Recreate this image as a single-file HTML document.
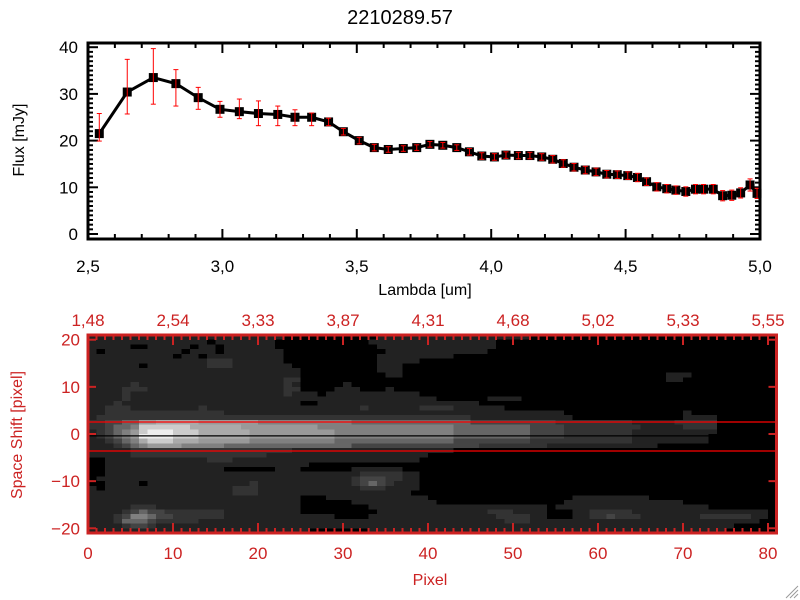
<!DOCTYPE html>
<html><head><meta charset="utf-8"><style>
html,body{margin:0;padding:0;background:#fff;}
svg{display:block;font-family:"Liberation Sans",sans-serif;}
</style></head><body>
<svg id="c" width="800" height="600" viewBox="0 0 800 600">
<text x="400" y="24" text-anchor="middle" font-size="20">2210289.57</text>
<text transform="translate(24,140) rotate(-90)" text-anchor="middle" font-size="16">Flux [mJy]</text>
<text x="425" y="295" text-anchor="middle" font-size="16">Lambda [um]</text>
<text transform="translate(22,435) rotate(-90)" text-anchor="middle" font-size="16" fill="#cc2222">Space Shift [pixel]</text>
<text x="430" y="585" text-anchor="middle" font-size="16" fill="#cc2222">Pixel</text>
<g id="topplot"></g>
<g id="botplot"></g>
<g stroke="#999" stroke-width="1"><line x1="798" y1="586" x2="786" y2="598"/><line x1="798" y1="590" x2="790" y2="598"/><line x1="798" y1="594" x2="794" y2="598"/></g>
</svg>
<script>
const lambda=[2.542,2.646,2.743,2.827,2.910,2.991,3.063,3.134,3.206,3.270,3.332,3.395,3.450,3.509,3.565,3.617,3.673,3.723,3.772,3.820,3.872,3.919,3.965,4.012,4.055,4.101,4.144,4.188,4.229,4.268,4.308,4.350,4.390,4.430,4.469,4.508,4.544,4.578,4.616,4.653,4.687,4.724,4.760,4.790,4.826,4.861,4.895,4.928,4.963,4.989];
const flux=[21.5,30.4,33.5,32.2,29.2,26.7,26.2,25.8,25.6,25.0,25.0,24.0,21.9,20.0,18.5,18.1,18.3,18.5,19.2,19.0,18.5,17.6,16.7,16.5,16.9,16.8,16.8,16.5,16.0,15.1,14.3,13.7,13.3,12.8,12.7,12.5,12.1,11.2,10.1,9.7,9.4,9.1,9.6,9.6,9.6,8.2,8.3,8.8,10.5,8.7];
const errHi=[25.8,37.4,39.7,35.2,31.4,28.4,28.9,28.5,27.4,26.6,25.9,24.8,22.6,20.7,19.2,18.7,18.9,19.1,19.8,19.6,19.1,18.3,17.4,17.2,17.6,17.5,17.5,17.2,16.8,15.9,15.1,14.5,14.1,13.6,13.5,13.3,13.0,12.0,11.0,10.6,10.3,10.1,10.6,10.6,10.6,9.3,9.4,9.9,11.8,9.8];
const errLo=[19.9,25.7,27.8,27.4,26.7,25.0,24.7,23.2,23.2,23.2,23.2,23.2,21.2,19.3,17.8,17.5,17.7,17.9,18.6,18.4,17.9,16.9,16.0,15.8,16.2,16.1,16.1,15.8,15.2,14.3,13.5,12.9,12.5,12.0,11.9,11.7,11.2,10.4,9.2,8.8,8.5,8.1,8.6,8.6,8.6,7.1,7.2,7.7,9.2,7.6];
const xTicks=[2.5,3.0,3.5,4.0,4.5,5.0];
const xTickLabels=["2,5","3,0","3,5","4,0","4,5","5,0"];
const yTicks=[0,10,20,30,40];
const pxTicks=[0,10,20,30,40,50,60,70,80];
const wlTickLabels=["1,48","2,54","3,33","3,87","4,31","4,68","5,02","5,33","5,55"];
const shiftTicks=[-20,-10,0,10,20];
const traceCenter=-0.4, apertureTop=2.55, apertureBottom=-3.6;
const imageRows=[
"111111111111111111111110000000000011111111111111111100000000000000000000000000000",
"111111111111110111111100000000000111111111111111000000000000000000000000000000000",
"111110011111011011111100000000000011111111111111000000000000000000000000000000000",
"101111111110111011111110000000000001111111111110000000000000000000000000000000000",
"111111111101101111111110000000000011111111100000000000000000000000000000000000000",
"111111111111112221111110000000000011111000000000000000000000000000000000000000000",
"111111011111112221111111000000000011100000000000000000000000000000000000000000000",
"111111111111111111111111100000000011100000000000000000000000000000000000000000000",
"111111111111111111111111100000000001100000000000000000000000000000001110000000000",
"111111111111111111111112200000000000000000000000000000000000000000001100000000000",
"111112111111111111111112100000100000000000000000000000000000000000000000000000000",
"111122211111111111111112200001110001000000000000000000000000000000000000000000000",
"111121111111111111111112111011111111111000000000000000000000000000000000000000000",
"111121111111111111111111111111111111111110000001111000000000000000000000000000000",
"111211111111111111111111100111111111111111111100000000000000000000000000000000000",
"112221111111121111111111111111112111111222211111100000000000000000000000000000000",
"112222222222222211111111111111111111111111111111111111110000000000000010000000000",
"122222222222222222222222222222222222222222222111111111111000000000000011110000000",
"223344667777766666665555555555544444444444444333333333322222222211111222220000000",
"223445888888777777666666666555555555555555544444444433332222222221111122220000000",
"123456899988877777766666666665555555555555544444444433332222222211111111110000000",
"123456999988877777766666666665555555555555544444444433332222222211111111100000000",
"112345788877766666655555555554444444444444433333333322222222222211111111100000000",
"111234566665555544444444444444433333333333333322222222111111111111100000000000000",
"111112222222222222222222111111111111111111100000000000000000000000000000000000000",
"111112222222222222222111111111111111111100000000000000000000000000000000000000000",
"001111111111112221111111111111111111111000000000000000000000000000000000000000000",
"001111111111111111111111110000000000000000000000000000000000000000000000000000000",
"001111111111111100000011100000011111100000000000000000000000000000000000000000000",
"001111111111111111111111111111112222211000000000000000000000000000000000000000000",
"011111111111111111111111111111123332211000000000000000000000000000000000000000000",
"001111011111111111121111111111123432111000000000000000000000000000000000000000000",
"101111111111111112221111111111112221111000000000000000000000000000000000000000000",
"111111111111111112221111111111111111110000000000000000000000000000000000000000000",
"111111111111111111111111100011111111111100000000000000000111111111000000000000000",
"111111111111111111111111100000011111111110000000000000001111111111111100000000000",
"111112221111111111111111100000000111111111111111111111011111111111111111100000000",
"111123433222222211111111100000000011111111111112221111000112222211111111111111110",
"111235543322222211111111111110000111111111111111222211000112232221111111222222110",
"111244432222211111111111111111111111111111111111122211111111111111111111111111100",
"111123321111111111111111111111111111111111111111111111111111111111111111111100000",
"111111111111111111111111110000000111111111111111111111111111111111111111111000000"
];
const grayLevels=["#000","#222","#333","#444","#666","#808080","#999","#aaa","#ccc","#eee"];

const NS="http://www.w3.org/2000/svg";
function mk(tag,attrs,parent){const e=document.createElementNS(NS,tag);for(const k in attrs)e.setAttribute(k,attrs[k]);parent.appendChild(e);return e;}

const T={x0:88,x1:760,y0:239,y1:43,ymin:-1.07,ymax:40.9,xmin:2.5,xmax:5.0};
const sx=v=>T.x0+(v-T.xmin)/(T.xmax-T.xmin)*(T.x1-T.x0);
const sy=v=>T.y0-(v-T.ymin)/(T.ymax-T.ymin)*(T.y0-T.y1);
const topG=document.getElementById('topplot');
const tk=mk('g',{stroke:'#000','stroke-width':2},topG);


for(let k=0;k<=25;k++){const v=2.5+k*0.1;const x=sx(v);const L=(k%5===0)?10:5;
 mk('line',{x1:x,y1:T.y0,x2:x,y2:T.y0-L},tk);mk('line',{x1:x,y1:T.y1,x2:x,y2:T.y1+L},tk);}
for(let v=0;v<=40;v+=1){const y=sy(v);const L=(v%10===0)?10:5;
 mk('line',{x1:T.x0,y1:y,x2:T.x0+L,y2:y},tk);mk('line',{x1:T.x1,y1:y,x2:T.x1-L,y2:y},tk);}
xTicks.forEach((v,i)=>{const t=mk('text',{x:sx(v),y:272,'text-anchor':'middle','font-size':17},topG);t.textContent=xTickLabels[i];
 
 });
yTicks.forEach(v=>{const t=mk('text',{x:78,y:sy(v)+6,'text-anchor':'end','font-size':17},topG);t.textContent=String(v);
 
 });
const fline=mk('polyline',{points:lambda.map((l,i)=>sx(l)+','+sy(flux[i])).join(' '),fill:'none',stroke:'#000','stroke-width':3},topG);


lambda.forEach((l,i)=>{const x=sx(l);
 const s=mk('rect',{x:x-4.5,y:sy(flux[i])-4.5,width:9,height:9,fill:'#000'},topG);
 
 });
lambda.forEach((l,i)=>{const x=sx(l);const g=mk('g',{stroke:'#ff0000','stroke-width':1},topG);
 
 
 mk('line',{x1:x,y1:sy(errHi[i]),x2:x,y2:sy(errLo[i])},g);
 mk('line',{x1:x-2.5,y1:sy(errHi[i]),x2:x+2.5,y2:sy(errHi[i])},g);
 mk('line',{x1:x-2.5,y1:sy(errLo[i]),x2:x+2.5,y2:sy(errLo[i])},g);});
const fr=mk('rect',{x:T.x0,y:T.y1,width:T.x1-T.x0,height:T.y0-T.y1,fill:'none',stroke:'#000','stroke-width':3},topG);



const B={x0:88,x1:776.5,y0:533,y1:335,pmin:0,pmax:81,smin:-21,smax:21};
const bx=v=>B.x0+(v-B.pmin)/(B.pmax-B.pmin)*(B.x1-B.x0);
const by=v=>B.y0-(v-B.smin)/(B.smax-B.smin)*(B.y0-B.y1);
const botG=document.getElementById('botplot');
const cells=mk('g',{'shape-rendering':'crispEdges'},botG);


imageRows.forEach((row,r)=>{const yTop=B.smax-r;
 for(let c=0;c<row.length;c++){
  const x=bx(c),w=bx(c+1)-x,y=by(yTop),h=by(yTop-1)-y;
  const e=mk('rect',{x:x,y:y,width:w+0.3,height:h+0.3,fill:grayLevels[+row[c]]},cells);
  
  }});
const ap1=mk('line',{x1:B.x0,x2:B.x1,y1:by(apertureTop),y2:by(apertureTop),stroke:'#ff0000','stroke-width':1.3},botG);


const ap2=mk('line',{x1:B.x0,x2:B.x1,y1:by(apertureBottom),y2:by(apertureBottom),stroke:'#ff0000','stroke-width':1.3},botG);


const cl=mk('line',{x1:B.x0,x2:B.x1,y1:by(traceCenter),y2:by(traceCenter),stroke:'#000','stroke-width':1.3},botG);


const bt=mk('g',{stroke:'#cc2222','stroke-width':2},botG);


for(let v=0;v<=81;v++){const x=bx(v);const L=(v%10===0)?10:5;
 mk('line',{x1:x,y1:B.y0,x2:x,y2:B.y0-L},bt);mk('line',{x1:x,y1:B.y1,x2:x,y2:B.y1+L},bt);}
shiftTicks.forEach(v=>{const y=by(v);mk('line',{x1:B.x0,y1:y,x2:B.x0+8,y2:y},bt);mk('line',{x1:B.x1,y1:y,x2:B.x1-8,y2:y},bt);
 const t=mk('text',{x:80,y:y+6,'text-anchor':'end','font-size':17,fill:'#cc2222'},botG);t.textContent=String(v).replace('-','\u2212');
 
 });
pxTicks.forEach((v,i)=>{const t=mk('text',{x:bx(v),y:559,'text-anchor':'middle','font-size':17,fill:'#cc2222'},botG);t.textContent=String(v);
 
 
 const u=mk('text',{x:bx(v),y:326,'text-anchor':'middle','font-size':17,fill:'#cc2222'},botG);u.textContent=wlTickLabels[i];
 
 });
const bf=mk('rect',{x:B.x0,y:B.y1,width:B.x1-B.x0,height:B.y0-B.y1,fill:'none',stroke:'#cc2222','stroke-width':3},botG);


</script>
</body></html>
